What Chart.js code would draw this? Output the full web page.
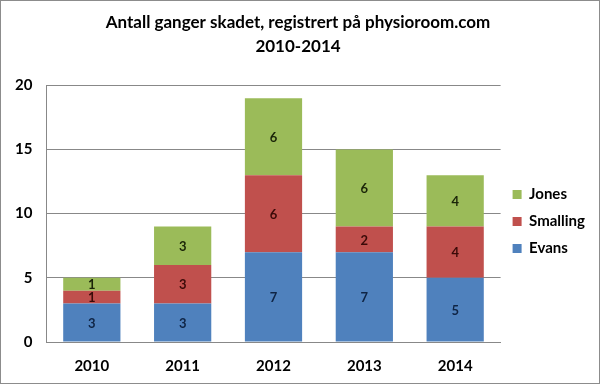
<!DOCTYPE html>
<html>
<head>
<meta charset="utf-8">
<script src="https://cdn.jsdelivr.net/npm/chart.js@4"></script>
<style>
  body { margin: 0; background: #fff; }
  .wrap { width: 600px; height: 384px; box-sizing: border-box; border: 1px solid #8c8c8c; }
  canvas { display: block; }
</style>
</head>
<body>
<div class="wrap"><canvas id="c" width="598" height="382"></canvas></div>
<script>
const years = ["2010", "2011", "2012", "2013", "2014"];
const evans = [3, 3, 7, 7, 5];
const smalling = [1, 3, 6, 2, 4];
const jones = [1, 3, 6, 6, 4];
const yTicks = [0, 5, 10, 15, 20];

const font = "Lato, 'Open Sans', sans-serif";

// write the value inside each segment
const segmentLabels = {
  id: "segmentLabels",
  afterDatasetsDraw(chart) {
    const ctx = chart.ctx;
    ctx.save();
    ctx.font = "bold 13px " + font;
    ctx.textAlign = "center";
    ctx.textBaseline = "middle";
    chart.data.datasets.forEach((ds, i) => {
      chart.getDatasetMeta(i).data.forEach((bar, j) => {
        ctx.fillStyle = ds.labelColor;
        ctx.fillText(ds.data[j], bar.x, (bar.y + bar.base) / 2 + 1);
      });
    });
    ctx.restore();
  },
};

new Chart(document.getElementById("c"), {
  type: "bar",
  data: {
    labels: years,
    datasets: [
      { label: "Evans", data: evans, backgroundColor: "#4f81bd", labelColor: "#0f2444" },
      { label: "Smalling", data: smalling, backgroundColor: "#c0504d", labelColor: "#3a0a08" },
      { label: "Jones", data: jones, backgroundColor: "#9bbb59", labelColor: "#1a2408" },
    ],
  },
  options: {
    responsive: false,
    animation: false,
    layout: { padding: { left: 0, right: 4, bottom: 1 } },
    datasets: { bar: { categoryPercentage: 1, barPercentage: 0.63 } },
    scales: {
      x: {
        stacked: true,
        grid: { display: false },
        border: { color: "#888" },
        ticks: { color: "#000", font: { family: font, size: 15, weight: "bold" }, padding: 7 },
      },
      y: {
        stacked: true,
        min: 0,
        max: 20,
        afterBuildTicks: (axis) => { axis.ticks = yTicks.map((v) => ({ value: v })); },
        grid: { color: "#888", drawTicks: false },
        border: { color: "#888" },
        ticks: { color: "#000", font: { family: font, size: 15, weight: "bold" }, padding: 14 },
      },
    },
    plugins: {
      title: {
        display: true,
        text: ["Antall ganger skadet, registrert på physioroom.com", "2010-2014"],
        color: "#000",
        font: { family: font, size: 17, weight: "bold", lineHeight: 1.45 },
        padding: { top: 9, bottom: 26 },
      },
      legend: {
        position: "right",
        reverse: true,
        title: { display: true, text: "", font: { size: 10, lineHeight: 1 }, padding: { top: 50, bottom: 0 } },
        labels: {
          color: "#000",
          font: { family: font, size: 15, weight: "bold" },
          boxWidth: 9,
          boxHeight: 9,
          padding: 12,
          useBorderRadius: false,
        },
      },
      tooltip: { enabled: false },
    },
  },
  plugins: [segmentLabels],
});
</script>
</body>
</html>
